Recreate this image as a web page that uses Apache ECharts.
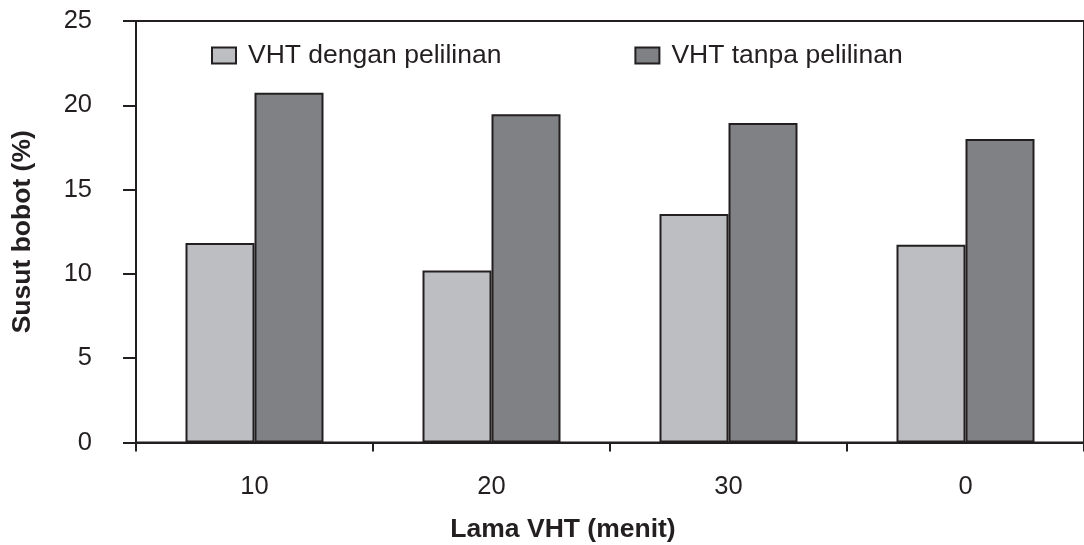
<!DOCTYPE html>
<html>
<head>
<meta charset="utf-8">
<script src="https://cdn.jsdelivr.net/npm/echarts@6/dist/echarts.min.js"></script>
<style>
html,body{margin:0;padding:0;background:#fff;}
#chart{width:1084px;height:545px;}
</style>
</head>
<body>
<div id="chart"></div>
<script>
const categories = ['10', '20', '30', '0'];
const seriesNames = ['VHT dengan pelilinan', 'VHT tanpa pelilinan'];
const withWax = [11.83, 10.20, 13.55, 11.73];
const withoutWax = [20.74, 19.47, 18.95, 18.00];
const yTicks = [0, 5, 10, 15, 20, 25];
const xAxisTitle = 'Lama VHT (menit)';
const yAxisTitle = 'Susut bobot (%)';

const ink = '#231f20';
const font = '"Liberation Sans", Arial, Helvetica, sans-serif';

const chart = echarts.init(document.getElementById('chart'), null, {renderer: 'canvas'});
chart.setOption({
  animation: false,
  backgroundColor: '#ffffff',
  title: {
    text: xAxisTitle,
    left: 563,
    top: 516,
    textAlign: 'center',
    padding: 0,
    textStyle: {fontFamily: font, fontSize: 26.5, fontWeight: 'bold', color: ink}
  },
  legend: {
    left: 211,
    top: 42,
    padding: 0,
    itemWidth: 24,
    itemHeight: 16,
    itemGap: 133,
    icon: 'rect',
    data: seriesNames,
    textStyle: {fontFamily: font, fontSize: 26.5, color: ink, padding: [0, 0, 0, 7]}
  },
  grid: {
    left: 136,
    right: -4,
    top: 21,
    bottom: 102.5,
    show: true,
    borderColor: ink,
    borderWidth: 2,
    backgroundColor: 'transparent'
  },
  xAxis: {
    type: 'category',
    data: categories,
    axisLine: {show: true, lineStyle: {color: ink, width: 2}},
    axisTick: {show: true, length: 9, lineStyle: {color: ink, width: 2}},
    axisLabel: {margin: 31, fontFamily: font, fontSize: 25.5, color: ink}
  },
  yAxis: {
    type: 'value',
    min: 0,
    max: 25,
    interval: 5,
    name: yAxisTitle,
    nameLocation: 'middle',
    nameGap: 100,
    nameTextStyle: {fontFamily: font, fontSize: 26.5, fontWeight: 'bold', color: ink},
    axisLine: {show: true, lineStyle: {color: ink, width: 2}},
    axisTick: {show: true, inside: false, length: 13, lineStyle: {color: ink, width: 2}},
    axisLabel: {
      margin: 44,
      fontFamily: font,
      fontSize: 25.5,
      color: ink,
      formatter: v => yTicks.includes(v) ? String(v) : ''
    },
    splitLine: {show: false}
  },
  series: [
    {
      name: seriesNames[0],
      type: 'bar',
      data: withWax,
      barWidth: 69,
      barGap: '0%',
      itemStyle: {color: '#bdbec2', borderColor: ink, borderWidth: 2}
    },
    {
      name: seriesNames[1],
      type: 'bar',
      data: withoutWax,
      barWidth: 69,
      barGap: '0%',
      itemStyle: {color: '#808185', borderColor: ink, borderWidth: 2}
    }
  ]
});
</script>
</body>
</html>
